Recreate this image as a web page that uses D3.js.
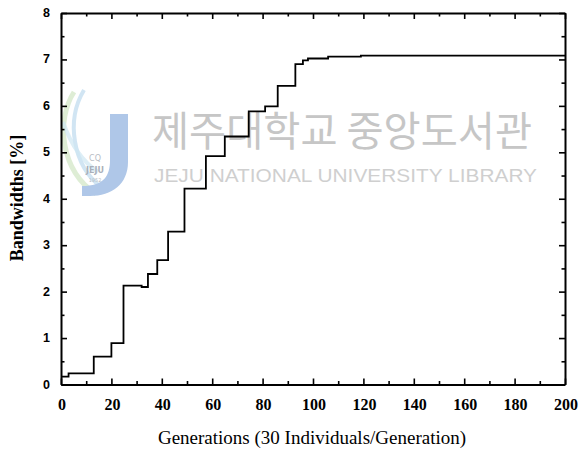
<!DOCTYPE html>
<html>
<head>
<meta charset="utf-8">
<script src="https://cdn.jsdelivr.net/npm/d3@7"></script>
<style>
  html, body { margin: 0; padding: 0; background: #fff; }
  svg { display: block; }
</style>
</head>
<body>
<svg id="chart" width="582" height="450"></svg>
<script>
// Bandwidth of the best individual per generation (step function)
const generations = [0, 3, 13, 20, 24.8, 32, 34.5, 38.2, 42.5, 49, 57.5, 65, 74.5, 81, 86, 93, 96, 98, 106, 119, 200];
const bandwidths  = [0.17, 0.24, 0.6, 0.89, 2.13, 2.1, 2.38, 2.68, 3.29, 4.22, 4.92, 5.34, 5.88, 5.99, 6.43, 6.9, 6.98, 7.02, 7.06, 7.08, 7.08];

const xTicks = [0, 20, 40, 60, 80, 100, 120, 140, 160, 180, 200];
const yTicks = [0, 1, 2, 3, 4, 5, 6, 7, 8];
const xMinor = d3.range(0, 201, 10);
const yMinor = d3.range(0, 8.01, 0.5);

const svg = d3.select("#chart");
const m = { left: 61, right: 565, top: 13, bottom: 384.5 };

const x = d3.scaleLinear().domain([0, 200]).range([m.left, m.right]);
const y = d3.scaleLinear().domain([0, 8]).range([m.bottom, m.top]);

// Library watermark in the background
const wm = svg.append("g").attr("class", "watermark");
const logo = wm.append("g");
logo.append("path")
  .attr("d", "M74,92 C56,120 60,170 96,194")
  .attr("fill", "none").attr("stroke", "#d6e8cb").attr("stroke-width", 5).attr("opacity", 0.8);
logo.append("path")
  .attr("d", "M84,90 C66,120 72,165 102,188")
  .attr("fill", "none").attr("stroke", "#c6def0").attr("stroke-width", 4).attr("opacity", 0.8);
logo.append("path")
  .attr("d", "M63,122 C70,142 80,160 98,172")
  .attr("fill", "none").attr("stroke", "#cfe7f2").attr("stroke-width", 4).attr("opacity", 0.7);
logo.append("path")
  .attr("d", "M110,114 L128,114 L128,162 C128,184 112,196 90,196 L82,196 L82,186 C104,186 110,176 110,160 Z")
  .attr("fill", "#afc7e8");
logo.append("text").attr("x", 95).attr("y", 161).attr("text-anchor", "middle")
  .attr("font-family", "DejaVu Sans, sans-serif").attr("font-size", 8).attr("fill", "#b8bcc4").text("CQ");
logo.append("text").attr("x", 95).attr("y", 173).attr("text-anchor", "middle")
  .attr("font-family", "DejaVu Sans, sans-serif").attr("font-weight", "bold").attr("font-size", 8).attr("fill", "#aab0ba").text("JEJU");
logo.append("text").attr("x", 95).attr("y", 182).attr("text-anchor", "middle")
  .attr("font-family", "DejaVu Sans, sans-serif").attr("font-size", 5).attr("fill", "#b8bcc4").text("1952");

wm.append("text")
  .attr("x", 152).attr("y", 146)
  .attr("font-family", "Noto Sans CJK KR, sans-serif")
  .attr("font-size", 41).attr("fill", "#c6c6c6")
  .attr("textLength", 380).attr("lengthAdjust", "spacingAndGlyphs")
  .text("제주대학교 중앙도서관");
wm.append("text")
  .attr("x", 154).attr("y", 182)
  .attr("font-family", "Liberation Sans, Arial, sans-serif")
  .attr("font-size", 19).attr("fill", "#cfcfcf")
  .attr("textLength", 383).attr("lengthAdjust", "spacingAndGlyphs")
  .text("JEJU NATIONAL UNIVERSITY  LIBRARY");

// Frame with inward ticks on all four sides
const frame = svg.append("g");

const gB = frame.append("g").attr("transform", `translate(0,${m.bottom})`)
  .call(d3.axisBottom(x).tickValues(xMinor).tickSize(0).tickFormat(""));
gB.selectAll(".tick line").attr("y2", d => xTicks.includes(d) ? -6 : -3.5);
const gT = frame.append("g").attr("transform", `translate(0,${m.top})`)
  .call(d3.axisTop(x).tickValues(xMinor).tickSize(0).tickFormat(""));
gT.selectAll(".tick line").attr("y2", d => xTicks.includes(d) ? 6 : 3.5);

const gL = frame.append("g").attr("transform", `translate(${m.left},0)`)
  .call(d3.axisLeft(y).tickValues(yMinor).tickSize(0).tickFormat(""));
gL.selectAll(".tick line").attr("x2", d => Number.isInteger(d) ? 6 : 3.5);
const gR = frame.append("g").attr("transform", `translate(${m.right},0)`)
  .call(d3.axisRight(y).tickValues(yMinor).tickSize(0).tickFormat(""));
gR.selectAll(".tick line").attr("x2", d => Number.isInteger(d) ? -6 : -3.5);

frame.selectAll(".domain").attr("stroke", "#000").attr("stroke-width", 2);
frame.selectAll(".tick line").attr("stroke", "#000").attr("stroke-width", 1.6);

// Tick labels
svg.append("g").selectAll("text").data(xTicks).join("text")
  .attr("x", d => x(d) + 1).attr("y", 410)
  .attr("text-anchor", "middle")
  .attr("font-family", "Liberation Serif, Times New Roman, serif")
  .attr("font-weight", "bold").attr("font-size", 16).attr("fill", "#000")
  .text(d => d);

svg.append("g").selectAll("text").data(yTicks).join("text")
  .attr("x", 50).attr("y", d => y(d) + 4)
  .attr("text-anchor", "end")
  .attr("font-family", "Liberation Sans, Arial, sans-serif")
  .attr("font-weight", "bold").attr("font-size", 12.5).attr("fill", "#000")
  .text(d => d);

// Axis titles
svg.append("text")
  .attr("x", 312).attr("y", 444)
  .attr("text-anchor", "middle")
  .attr("font-family", "Liberation Serif, Times New Roman, serif")
  .attr("font-size", 19).attr("fill", "#000")
  .text("Generations (30 Individuals/Generation)");

svg.append("text")
  .attr("transform", "translate(23,198) rotate(-90)")
  .attr("text-anchor", "middle")
  .attr("font-family", "Liberation Serif, Times New Roman, serif")
  .attr("font-weight", "bold").attr("font-size", 18).attr("fill", "#000")
  .text("Bandwidths [%]");

// Bandwidth curve
const pts = generations.map((g, i) => [g, bandwidths[i]]);
const line = d3.line().x(d => x(d[0])).y(d => y(d[1])).curve(d3.curveStepAfter);
svg.append("path")
  .attr("d", line(pts))
  .attr("fill", "none").attr("stroke", "#000").attr("stroke-width", 1.8);
</script>
</body>
</html>
